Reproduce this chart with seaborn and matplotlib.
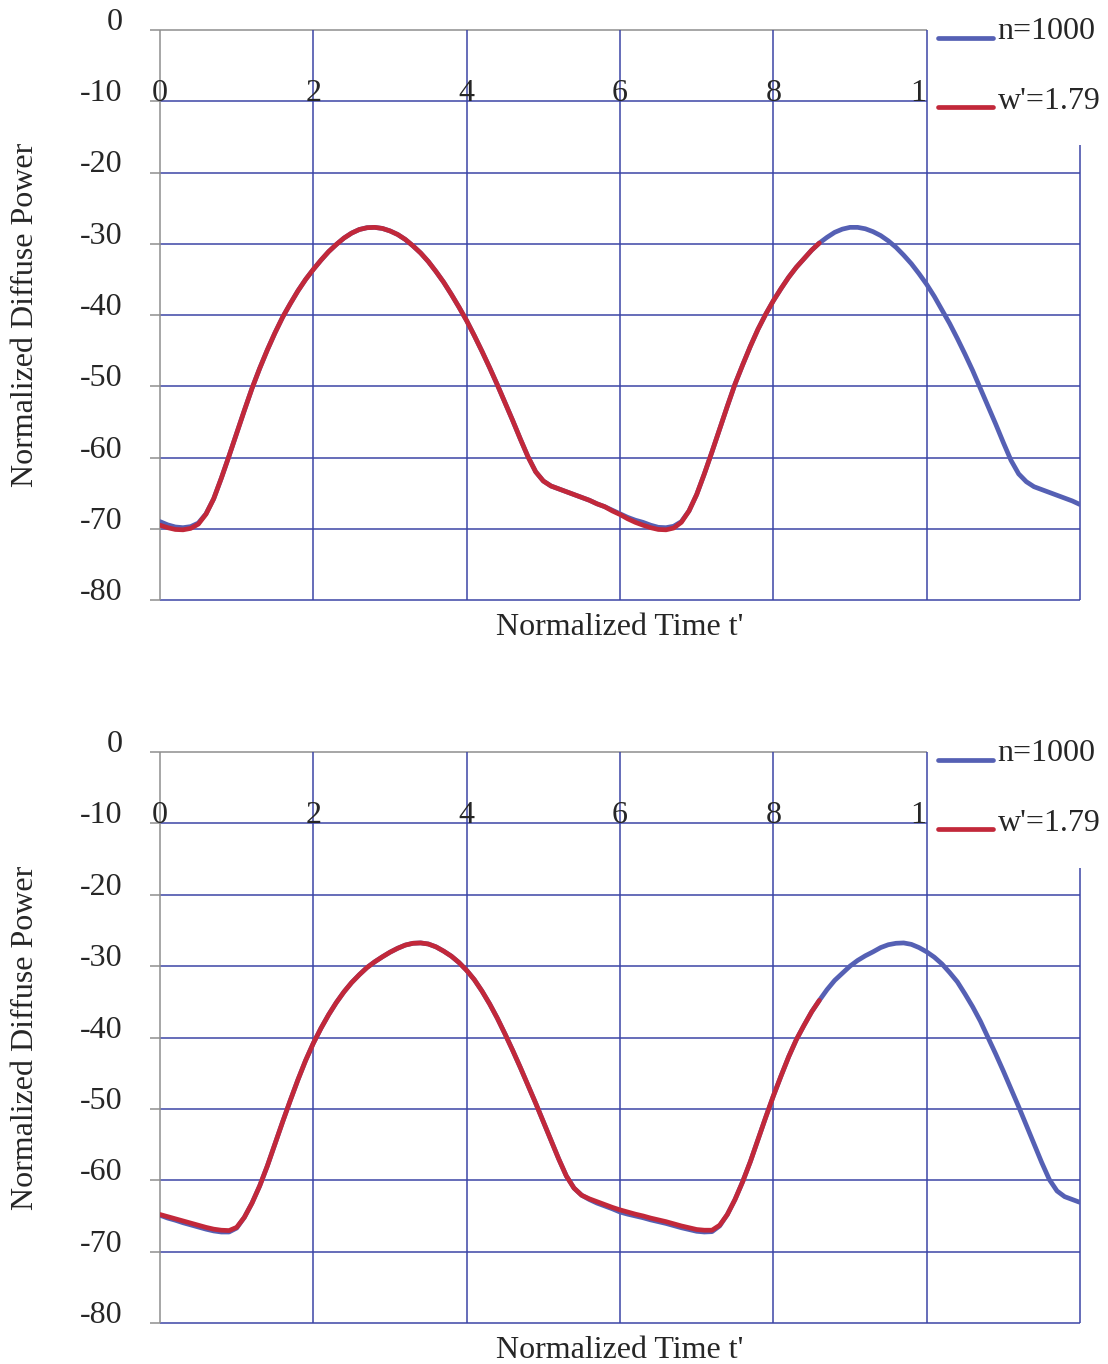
import matplotlib
matplotlib.use("Agg")
import matplotlib.pyplot as plt
from matplotlib.patches import Rectangle
import seaborn as sns

# Common time samples (normalized time t')
t_full = [0.0, 0.1, 0.2, 0.3, 0.4, 0.5, 0.6, 0.7, 0.8, 0.9,
          1.0, 1.1, 1.2, 1.3, 1.4, 1.5, 1.6, 1.7, 1.8, 1.9,
          2.0, 2.1, 2.2, 2.3, 2.4, 2.5, 2.6, 2.7, 2.8, 2.9,
          3.0, 3.1, 3.2, 3.3, 3.4, 3.5, 3.6, 3.7, 3.8, 3.9,
          4.0, 4.1, 4.2, 4.3, 4.4, 4.5, 4.6, 4.7, 4.8, 4.9,
          5.0, 5.1, 5.2, 5.3, 5.4, 5.5, 5.6, 5.7, 5.8, 5.9,
          6.0, 6.1, 6.2, 6.3, 6.4, 6.5, 6.6, 6.7, 6.8, 6.9,
          7.0, 7.1, 7.2, 7.3, 7.4, 7.5, 7.6, 7.7, 7.8, 7.9,
          8.0, 8.1, 8.2, 8.3, 8.4, 8.5, 8.6, 8.7, 8.8, 8.9,
          9.0, 9.1, 9.2, 9.3, 9.4, 9.5, 9.6, 9.7, 9.8, 9.9,
          10.0, 10.1, 10.2, 10.3, 10.4, 10.5, 10.6, 10.7, 10.8, 10.9,
          11.0, 11.1, 11.2, 11.3, 11.4, 11.5, 11.6, 11.7, 11.8, 11.9,
          12.0]

# ---- upper panel -------------------------------------------------------
top_p_n = [-69.0, -69.45, -69.75, -69.85, -69.7, -69.2, -67.9, -65.8, -62.9, -59.8,
           -56.6, -53.4, -50.3, -47.5, -44.9, -42.5, -40.3, -38.4, -36.6, -35.0,
           -33.6, -32.3, -31.1, -30.1, -29.2, -28.5, -28.0, -27.75, -27.7, -27.85,
           -28.2, -28.7, -29.4, -30.3, -31.3, -32.5, -33.9, -35.4, -37.1, -38.9,
           -40.8, -42.9, -45.1, -47.4, -49.8, -52.3, -54.8, -57.4, -59.9, -62.0,
           -63.3, -64.0, -64.4, -64.8, -65.2, -65.6, -66.0, -66.5, -66.9, -67.4,
           -67.9, -68.4, -68.8, -69.1, -69.5, -69.8, -69.85, -69.65, -69.0, -67.5,
           -65.2, -62.3, -59.2, -56.0, -52.8, -49.7, -47.0, -44.4, -42.0, -39.9,
           -38.0, -36.3, -34.7, -33.3, -32.1, -30.9, -29.9, -29.1, -28.4, -27.95,
           -27.7, -27.7, -27.9, -28.3, -28.85, -29.6, -30.5, -31.6, -32.8, -34.2,
           -35.7, -37.4, -39.3, -41.2, -43.3, -45.5, -47.8, -50.3, -52.8, -55.3,
           -57.9, -60.4, -62.3, -63.4, -64.1, -64.5, -64.9, -65.3, -65.7, -66.1,
           -66.6]
top_p_w = [-69.5, -69.85, -70.1, -70.15, -69.95, -69.35, -67.95, -65.8, -62.9, -59.8,
           -56.6, -53.4, -50.3, -47.5, -44.9, -42.5, -40.3, -38.4, -36.6, -35.0,
           -33.6, -32.3, -31.1, -30.1, -29.2, -28.5, -28.0, -27.75, -27.7, -27.85,
           -28.2, -28.7, -29.4, -30.3, -31.3, -32.5, -33.9, -35.4, -37.1, -38.9,
           -40.8, -42.9, -45.1, -47.4, -49.8, -52.3, -54.8, -57.4, -59.9, -62.0,
           -63.3, -64.0, -64.4, -64.8, -65.2, -65.6, -66.0, -66.5, -66.9, -67.5,
           -68.0, -68.6, -69.1, -69.5, -69.85, -70.1, -70.15, -69.9, -69.1, -67.5,
           -65.2, -62.3, -59.2, -56.0, -52.8, -49.7, -47.0, -44.4, -42.0, -39.9,
           -38.0, -36.3, -34.7, -33.3, -32.1, -30.9, -29.9]

# ---- lower panel -------------------------------------------------------
bot_p_n = [-64.9, -65.3, -65.6, -65.95, -66.25, -66.55, -66.85, -67.1, -67.25, -67.25,
           -66.7, -65.2, -63.2, -60.8, -58.0, -54.9, -51.8, -48.8, -45.9, -43.2,
           -40.8, -38.7, -36.8, -35.1, -33.6, -32.3, -31.2, -30.2, -29.4, -28.7,
           -28.05, -27.5, -27.05, -26.8, -26.75, -26.9, -27.3, -27.9, -28.6, -29.5,
           -30.6, -31.9, -33.5, -35.3, -37.3, -39.5, -41.8, -44.2, -46.7, -49.2,
           -51.8, -54.4, -57.0, -59.4, -61.1, -62.1, -62.7, -63.2, -63.6, -64.0,
           -64.45, -64.75, -65.0, -65.25, -65.55, -65.8, -66.05, -66.35, -66.65, -66.9,
           -67.15, -67.25, -67.2, -66.4, -64.8, -62.7, -60.2, -57.4, -54.3, -51.2,
           -48.2, -45.4, -42.7, -40.3, -38.3, -36.4, -34.8, -33.3, -32.0, -31.0,
           -30.0, -29.2, -28.55, -28.0, -27.4, -27.0, -26.8, -26.75, -26.95, -27.4,
           -28.0, -28.75, -29.7, -30.9, -32.2, -33.9, -35.7, -37.7, -40.0, -42.3,
           -44.7, -47.2, -49.7, -52.3, -54.9, -57.5, -59.9, -61.5, -62.3, -62.7,
           -63.1]
bot_p_w = [-64.8, -65.1, -65.4, -65.7, -66.0, -66.3, -66.6, -66.85, -67.0, -67.05,
           -66.6, -65.2, -63.2, -60.8, -58.0, -54.9, -51.8, -48.8, -45.9, -43.2,
           -40.8, -38.7, -36.8, -35.1, -33.6, -32.3, -31.2, -30.2, -29.4, -28.7,
           -28.05, -27.5, -27.05, -26.8, -26.75, -26.9, -27.3, -27.9, -28.6, -29.5,
           -30.6, -31.9, -33.5, -35.3, -37.3, -39.5, -41.8, -44.2, -46.7, -49.2,
           -51.8, -54.4, -57.0, -59.4, -61.1, -62.1, -62.6, -63.0, -63.4, -63.8,
           -64.15, -64.45, -64.75, -65.0, -65.3, -65.55, -65.8, -66.1, -66.4, -66.65,
           -66.9, -67.0, -67.0, -66.3, -64.8, -62.7, -60.2, -57.4, -54.3, -51.2,
           -48.2, -45.4, -42.7, -40.3, -38.3, -36.4, -34.8]

# ---- axes text ---------------------------------------------------------
y_ticks = [0, -10, -20, -30, -40, -50, -60, -70, -80]
y_tick_labels = ["0", "-10", "-20", "-30", "-40", "-50", "-60", "-70", "-80"]
x_ticks = [0, 2, 4, 6, 8, 10]
x_tick_labels = ["0", "2", "4", "6", "8", "10"]
series_labels = ["n=1000", "w'=1.79"]
x_title = "Normalized Time t'"
y_title = "Normalized Diffuse Power"

BLUE_LINE = "#5560b4"
RED_LINE = "#c2283a"
GRID_BLUE = "#3c45a6"
GRID_GRAY = "#8e8e8e"

sns.set_style("white")
plt.rcParams["font.family"] = ["Liberation Serif", "DejaVu Serif"]
FS = 23
LW = 3.4

W, H = 1108, 1364
fig = plt.figure(figsize=(W / 100, H / 100), dpi=100)


def draw_grid(ax):
    kw = dict(lw=1.1, clip_on=False, zorder=1)
    # short stubs left of the frame
    ax.hlines(y_ticks, -0.13, 0, color=GRID_GRAY, **kw)
    ax.hlines(0, 0, 10, color=GRID_GRAY, **kw)
    ax.hlines(-10, 0, 10, color=GRID_BLUE, **kw)
    ax.hlines(y_ticks[2:], 0, 12, color=GRID_BLUE, **kw)
    ax.vlines(0, -80, 0, color=GRID_GRAY, **kw)
    ax.vlines([2, 4, 6, 8, 10], -80, 0, color=GRID_BLUE, **kw)
    ax.vlines(12, -80, -16.2, color=GRID_BLUE, **kw)


def panel(ax, p_n, p_w, legend_top_px):
    ax.set_xlim(0, 12)
    ax.set_ylim(-80, 0)
    for s in ax.spines.values():
        s.set_visible(False)
    draw_grid(ax)
    sns.lineplot(x=t_full[:len(p_n)], y=p_n, ax=ax, color=BLUE_LINE, lw=LW,
                 label=series_labels[0], zorder=3)
    sns.lineplot(x=t_full[:len(p_w)], y=p_w, ax=ax, color=RED_LINE, lw=LW,
                 label=series_labels[1], zorder=4)

    ax.set_xticks([])
    ax.set_yticks(y_ticks)
    ax.set_yticklabels(y_tick_labels, fontsize=FS)
    ax.tick_params(axis="y", length=0, pad=27)
    for lab in ax.get_yticklabels():
        lab.set_verticalalignment("baseline")

    # time ticks written along the -10 line, cut off at t = 10
    clip = Rectangle((-1, -20), 11, 25, transform=ax.transData)
    for xv, lab in zip(x_ticks, x_tick_labels):
        t = ax.text(xv, -10, lab, ha="center", va="baseline",
                    fontsize=FS, zorder=2, clip_on=True)
        t.set_clip_path(clip)

    ax.set_xlabel(x_title, fontsize=FS, labelpad=9)
    ax.set_ylabel(y_title, fontsize=FS)
    ax.yaxis.set_label_coords(-0.130, 0.5)

    leg = ax.legend(loc="upper left",
                    bbox_to_anchor=(938 / W, 1 - legend_top_px / H),
                    bbox_transform=fig.transFigure, frameon=False,
                    fontsize=FS, handlelength=1.72, handletextpad=0.15,
                    labelspacing=1.25, borderpad=0, borderaxespad=0)
    for line in leg.get_lines():
        line.set_linewidth(LW)
        line.set_ydata([v - 7 for v in line.get_ydata()])


ax1 = fig.add_axes([160 / W, 1 - 600 / H, 920 / W, 570 / H])
panel(ax1, top_p_n, top_p_w, 17)

ax2 = fig.add_axes([160 / W, 1 - 1323 / H, 920 / W, 571 / H])
panel(ax2, bot_p_n, bot_p_w, 739)

fig.savefig("out.png", dpi=100, facecolor="white")
